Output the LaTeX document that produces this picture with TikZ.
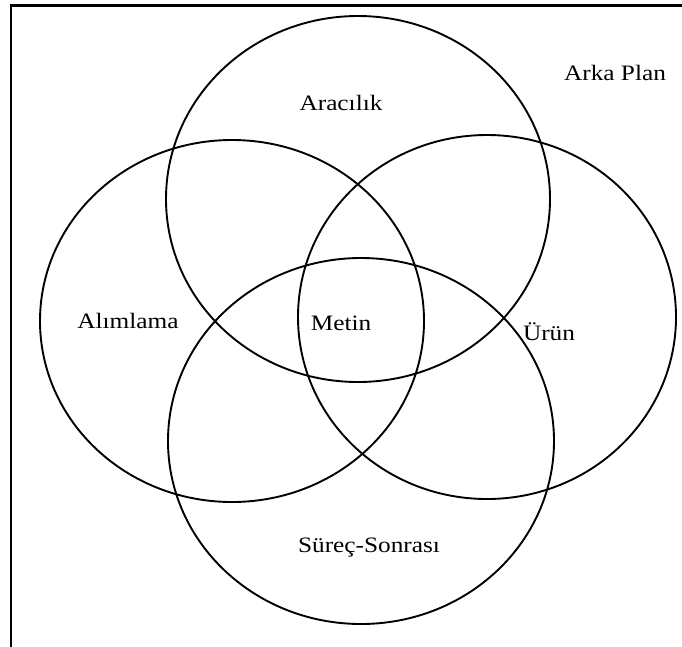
\documentclass[tikz,border=0pt]{standalone}
\usepackage{fontspec}
\setmainfont[FakeStretch=1.15]{Liberation Serif}
\begin{document}
\begin{tikzpicture}[x=1pt,y=-1pt,
  setline/.style={line width=1.9pt},
  lbl/.style={font=\fontsize{22}{26}\selectfont, inner sep=0pt}]
\useasboundingbox (0,0) rectangle (682,646);
\begin{scope}
\clip (0,0) rectangle (682,646);
\draw[line width=2.2pt] (11,700) coordinate (fl) -- (11,5.5) coordinate (ftl) -- (700,5.5) coordinate (ftr);
\end{scope}
\draw[setline] (358,199) ellipse [x radius=192, y radius=183];
\draw[setline] (232,321) ellipse [x radius=192, y radius=181];
\draw[setline] (487,317) ellipse [x radius=189, y radius=182];
\draw[setline] (361,441) ellipse [x radius=193, y radius=183];
\node[lbl] (arac) at (341,103) {Aracılık};
\node[lbl] (arka) at (615,73) {Arka Plan};
\node[lbl] (alim) at (128,321) {Alımlama};
\node[lbl] (met) at (341,323) {Metin};
\node[lbl] (urun) at (549,332) {Ürün};
\node[lbl] (surec) at (369,548) {Süreç-Sonrası};
\end{tikzpicture}
\end{document}
